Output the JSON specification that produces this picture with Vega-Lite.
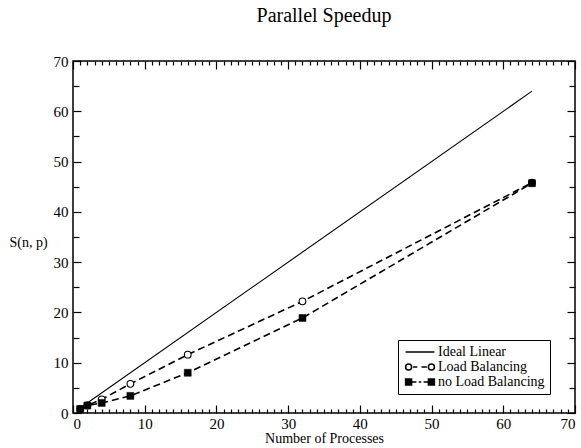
{
  "$schema": "https://vega.github.io/schema/vega-lite/v6.json",
  "width": 502,
  "height": 352,
  "autosize": {"type": "none"},
  "padding": {"left": 73, "top": 61, "right": 6, "bottom": 35},
  "background": "white",
  "title": {"text": "Parallel Speedup", "font": "Liberation Serif", "fontSize": 20, "fontWeight": "normal", "color": "black", "anchor": "middle", "baseline": "alphabetic", "offset": 12},
  "config": {
    "view": {"stroke": "black", "strokeWidth": 1.5},
    "axis": {"grid": false, "domain": false, "labelFont": "Liberation Serif", "titleFont": "Liberation Serif", "labelFontSize": 15, "titleFontSize": 14, "titleFontWeight": "normal", "labelColor": "black", "titleColor": "black", "tickColor": "black", "tickWidth": 1.2}
  },
  "data": {"values": [
    {"series": "Ideal Linear", "n": 1, "s": 1},
    {"series": "Ideal Linear", "n": 64, "s": 64},
    {"series": "Load Balancing", "n": 1, "s": 0.8},
    {"series": "Load Balancing", "n": 2, "s": 1.5},
    {"series": "Load Balancing", "n": 4, "s": 2.7},
    {"series": "Load Balancing", "n": 8, "s": 5.8},
    {"series": "Load Balancing", "n": 16, "s": 11.6},
    {"series": "Load Balancing", "n": 32, "s": 22.2},
    {"series": "Load Balancing", "n": 64, "s": 45.8},
    {"series": "no Load Balancing", "n": 1, "s": 0.8},
    {"series": "no Load Balancing", "n": 2, "s": 1.5},
    {"series": "no Load Balancing", "n": 4, "s": 2.0},
    {"series": "no Load Balancing", "n": 8, "s": 3.4},
    {"series": "no Load Balancing", "n": 16, "s": 8.0},
    {"series": "no Load Balancing", "n": 32, "s": 18.9},
    {"series": "no Load Balancing", "n": 64, "s": 45.7}
  ]},
  "layer": [
    {
      "transform": [{"filter": "datum.series === 'Ideal Linear'"}],
      "mark": {"type": "line", "color": "black", "strokeWidth": 1.1},
      "encoding": {
        "x": {"field": "n", "type": "quantitative", "scale": {"domain": [0, 70], "nice": false, "zero": false},
              "axis": {"orient": "bottom", "values": [0, 10, 20, 30, 40, 50, 60, 70], "ticks": false, "labelPadding": 3, "title": "Number of Processes", "titleY": 25, "titleBaseline": "middle"}},
        "y": {"field": "s", "type": "quantitative", "scale": {"domain": [0, 70], "nice": false, "zero": false},
              "axis": {"orient": "left", "values": [0, 10, 20, 30, 40, 50, 60, 70], "ticks": false, "labelPadding": 5, "title": "S(n, p)", "titleAngle": 0, "titleX": -45, "titleY": 181, "titleAlign": "center", "titleBaseline": "middle"}}
      }
    },
    {
      "transform": [{"filter": "datum.series === 'Load Balancing'"}],
      "mark": {"type": "line", "color": "black", "strokeWidth": 1.6, "strokeDash": [7, 4]},
      "encoding": {
        "x": {"field": "n", "type": "quantitative", "scale": {"domain": [0, 70], "nice": false, "zero": false},
              "axis": {"orient": "bottom", "values": [0, 10, 20, 30, 40, 50, 60, 70], "labels": false, "tickSize": -8, "title": null}},
        "y": {"field": "s", "type": "quantitative", "scale": {"domain": [0, 70], "nice": false, "zero": false},
              "axis": {"orient": "left", "values": [0, 10, 20, 30, 40, 50, 60, 70], "labels": false, "tickSize": -8, "title": null}}
      }
    },
    {
      "transform": [{"filter": "datum.series === 'no Load Balancing'"}],
      "mark": {"type": "line", "color": "black", "strokeWidth": 1.6, "strokeDash": [7, 4]},
      "encoding": {
        "x": {"field": "n", "type": "quantitative", "scale": {"domain": [0, 70], "nice": false, "zero": false},
              "axis": {"orient": "top", "values": [0, 10, 20, 30, 40, 50, 60, 70], "labels": false, "tickSize": -8, "title": null}},
        "y": {"field": "s", "type": "quantitative", "scale": {"domain": [0, 70], "nice": false, "zero": false},
              "axis": {"orient": "right", "values": [0, 10, 20, 30, 40, 50, 60, 70], "labels": false, "tickSize": -8, "title": null}}
      }
    },
    {
      "transform": [{"filter": "datum.series === 'Load Balancing'"}],
      "mark": {"type": "point", "shape": "circle", "size": 45, "filled": true, "fill": "white", "stroke": "black", "strokeWidth": 1.1, "opacity": 1},
      "encoding": {
        "x": {"field": "n", "type": "quantitative", "scale": {"domain": [0, 70], "nice": false, "zero": false},
              "axis": {"orient": "bottom", "values": [1,2,3,4,5,6,7,8,9,11,12,13,14,15,16,17,18,19,21,22,23,24,25,26,27,28,29,31,32,33,34,35,36,37,38,39,41,42,43,44,45,46,47,48,49,51,52,53,54,55,56,57,58,59,61,62,63,64,65,66,67,68,69], "labels": false, "tickSize": -4, "title": null}},
        "y": {"field": "s", "type": "quantitative", "scale": {"domain": [0, 70], "nice": false, "zero": false},
              "axis": {"orient": "left", "values": [5, 15, 25, 35, 45, 55, 65], "labels": false, "tickSize": -6, "title": null}}
      }
    },
    {
      "transform": [{"filter": "datum.series === 'no Load Balancing'"}],
      "mark": {"type": "point", "shape": "square", "size": 49, "filled": true, "fill": "black", "stroke": "black", "strokeWidth": 0.5, "opacity": 1},
      "encoding": {
        "x": {"field": "n", "type": "quantitative", "scale": {"domain": [0, 70], "nice": false, "zero": false},
              "axis": {"orient": "top", "values": [1,2,3,4,5,6,7,8,9,11,12,13,14,15,16,17,18,19,21,22,23,24,25,26,27,28,29,31,32,33,34,35,36,37,38,39,41,42,43,44,45,46,47,48,49,51,52,53,54,55,56,57,58,59,61,62,63,64,65,66,67,68,69], "labels": false, "tickSize": -4, "title": null}},
        "y": {"field": "s", "type": "quantitative", "scale": {"domain": [0, 70], "nice": false, "zero": false},
              "axis": {"orient": "right", "values": [5, 15, 25, 35, 45, 55, 65], "labels": false, "tickSize": -6, "title": null}}
      }
    },
    {
      "transform": [{"filter": "false"}],
      "mark": {"type": "point", "filled": false, "stroke": "black", "opacity": 1},
      "encoding": {
        "x": {"field": "n", "type": "quantitative", "scale": {"domain": [0, 70], "nice": false, "zero": false}, "axis": null},
        "y": {"field": "s", "type": "quantitative", "scale": {"domain": [0, 70], "nice": false, "zero": false}, "axis": null},
        "shape": {"field": "series", "type": "nominal",
          "scale": {"domain": ["Ideal Linear", "Load Balancing", "no Load Balancing"],
                    "range": ["M-4.8,0H4.8", "M-4.8,0A1,1 0 1,0 -2.8,0A1,1 0 1,0 -4.8,0M-2.3,0H-0.9M0.5,0H2.3M2.8,0A1,1 0 1,0 4.8,0A1,1 0 1,0 2.8,0", "M-4.8,-1H-2.8V1H-4.8ZM-2.8,0H-1.2M-0.4,0H0.4M1.2,0H2.8M2.8,-1H4.8V1H2.8Z"]},
          "legend": {"orient": "none", "legendX": 325, "legendY": 279, "title": null, "strokeColor": "black", "fillColor": "white", "padding": 5, "symbolSize": 36, "symbolOffset": 10, "labelOffset": 11, "labelFont": "Liberation Serif", "labelFontSize": 14, "labelColor": "black", "rowPadding": 1,
            "encode": {"symbols": {"update": {"stroke": {"value": "black"}, "strokeOpacity": {"value": 1}, "fillOpacity": {"value": 1}, "strokeWidth": {"value": 1.2}, "opacity": {"value": 1}}}}}},
        "fill": {"field": "series", "type": "nominal",
          "scale": {"domain": ["Ideal Linear", "Load Balancing", "no Load Balancing"], "range": ["transparent", "white", "black"]},
          "legend": {"orient": "none", "legendX": 325, "legendY": 279, "title": null, "strokeColor": "black", "fillColor": "white", "padding": 5, "symbolSize": 36, "symbolOffset": 10, "labelOffset": 11, "labelFont": "Liberation Serif", "labelFontSize": 14, "labelColor": "black", "rowPadding": 1,
            "encode": {"symbols": {"update": {"stroke": {"value": "black"}, "strokeOpacity": {"value": 1}, "fillOpacity": {"value": 1}, "strokeWidth": {"value": 1.2}, "opacity": {"value": 1}}}}}}
      }
    }
  ],
  "resolve": {"axis": {"x": "independent", "y": "independent"}}
}
